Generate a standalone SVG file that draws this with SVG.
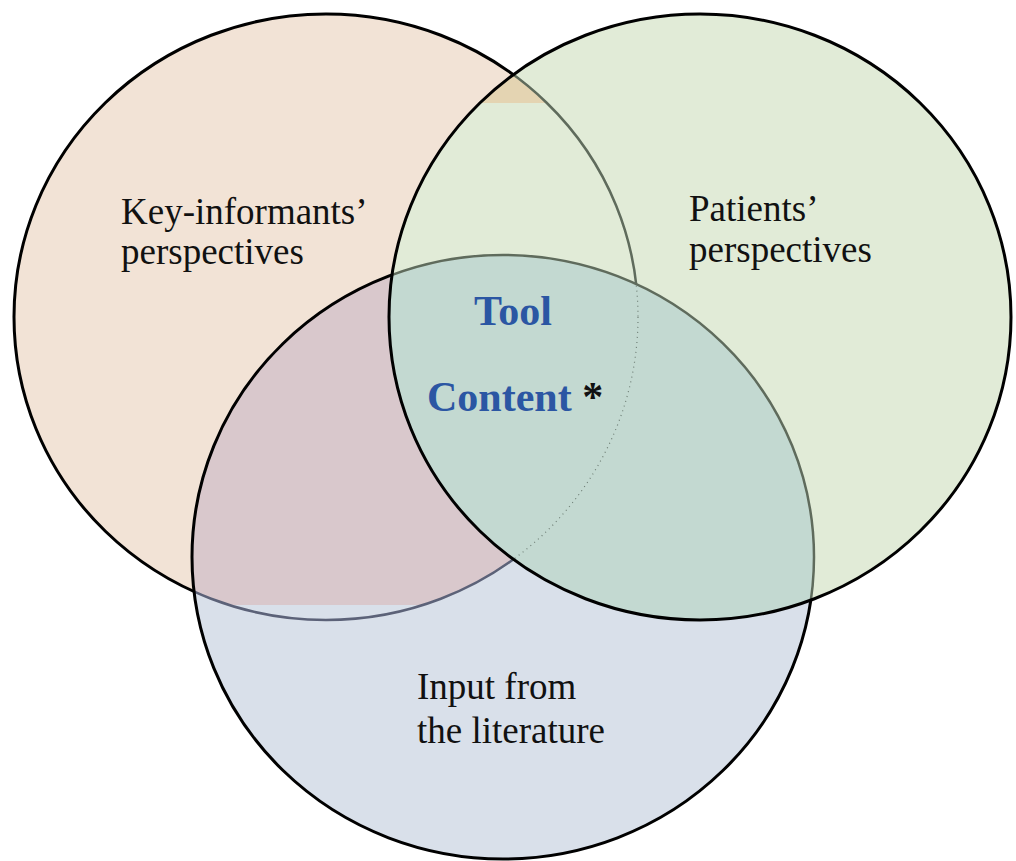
<svg xmlns="http://www.w3.org/2000/svg" width="1016" height="861" viewBox="0 0 1016 861">
<style>
.lbl{font-family:"Liberation Serif","Times New Roman",serif;font-size:37px;fill:#111}
.core{font-family:"Liberation Serif","Times New Roman",serif;font-size:42px;font-weight:bold;fill:#2b56a3}
.outline{fill:none;stroke:#000;stroke-width:3}
.inner{fill:none;stroke:#5f6b5c;stroke-width:2.5}
</style>
<defs>
<clipPath id="cL"><ellipse cx="326" cy="317" rx="312" ry="303"/></clipPath>
<clipPath id="cR"><ellipse cx="700" cy="317" rx="311" ry="303"/></clipPath>
<clipPath id="cB"><ellipse cx="503" cy="557" rx="311" ry="302"/></clipPath>
<clipPath id="cM"><rect x="0" y="0" width="1016" height="605"/></clipPath>
<clipPath id="cT"><rect x="0" y="0" width="1016" height="103"/></clipPath>
</defs>
<rect width="1016" height="861" fill="#fff"/>
<g id="node-key-informants">
<ellipse cx="326" cy="317" rx="312" ry="303" fill="#f2e3d6"/>
<ellipse cx="326" cy="317" rx="312" ry="303" class="outline"/>
</g>
<g id="node-literature">
<ellipse cx="503" cy="557" rx="311" ry="302" fill="#d9e0ea"/>
<g clip-path="url(#cL)"><g clip-path="url(#cM)"><ellipse cx="503" cy="557" rx="311" ry="302" fill="#d9c8cc"/></g></g>
<g clip-path="url(#cB)"><ellipse cx="326" cy="317" rx="312" ry="303" fill="none" stroke="#5c6278" stroke-width="2.5"/></g>
<ellipse cx="503" cy="557" rx="311" ry="302" class="outline"/>
</g>
<g id="node-patients">
<ellipse cx="700" cy="317" rx="311" ry="303" fill="#e1ebd7"/>
<g clip-path="url(#cR)"><g clip-path="url(#cL)"><g clip-path="url(#cT)"><ellipse cx="326" cy="317" rx="312" ry="303" fill="#e4d4b2"/></g></g></g>
<g clip-path="url(#cR)">
<ellipse cx="326" cy="317" rx="312" ry="303" class="inner"/>
<ellipse cx="503" cy="557" rx="311" ry="302" fill="#c3d9d1"/>
<ellipse cx="503" cy="557" rx="311" ry="302" class="inner"/>
<g clip-path="url(#cB)"><ellipse cx="326" cy="317" rx="312" ry="303" fill="none" stroke="#6f7f76" stroke-width="1.2" stroke-dasharray="1 4"/></g>
</g>
<ellipse cx="700" cy="317" rx="311" ry="303" class="outline"/>
</g>
<g id="labels">
<text class="lbl" x="121" y="224">Key-informants’</text>
<text class="lbl" x="121" y="264">perspectives</text>
<text class="lbl" x="689" y="221">Patients’</text>
<text class="lbl" x="689" y="262">perspectives</text>
<text class="lbl" x="417" y="699">Input from</text>
<text class="lbl" x="417" y="743">the literature</text>
<text class="core" x="474" y="325">Tool</text>
<text class="core" x="427" y="411">Content <tspan fill="#111">*</tspan></text>
</g>
</svg>
